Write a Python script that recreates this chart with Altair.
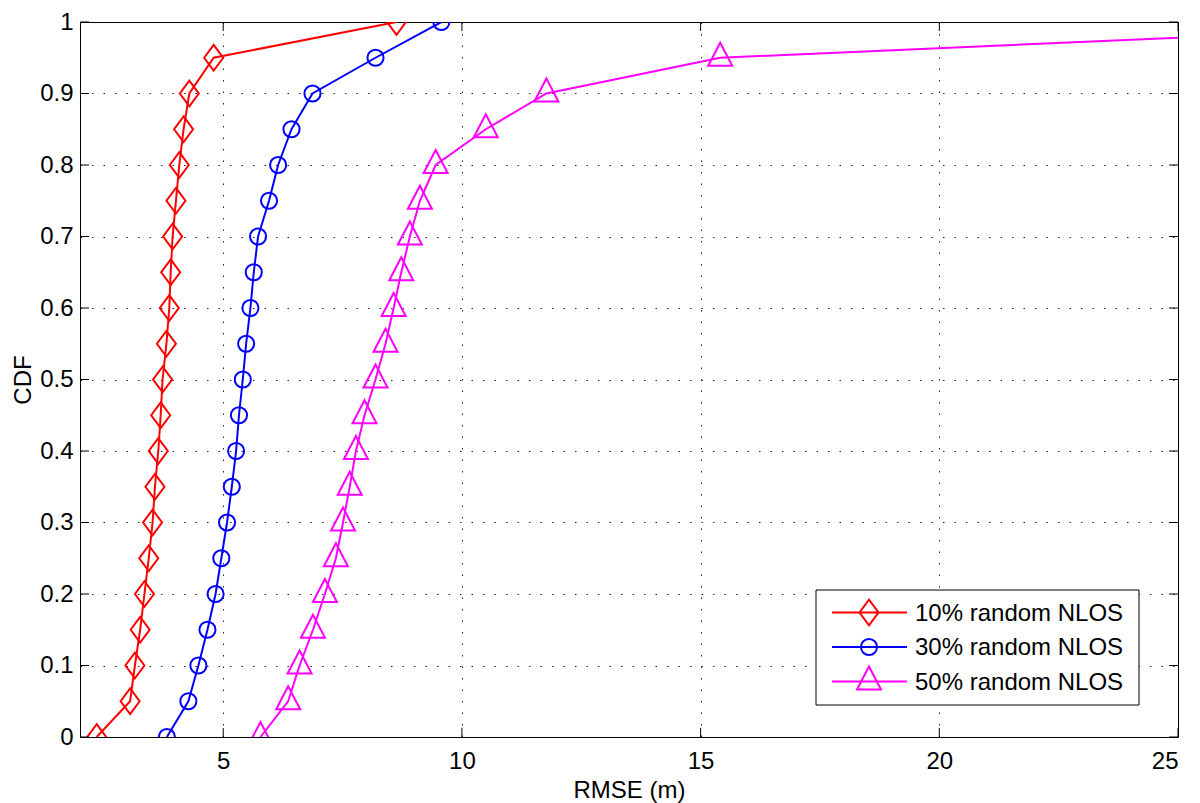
import altair as alt
import pandas as pd

# ---- data ----
cdf = [0.0, 0.05, 0.1, 0.15, 0.2, 0.25, 0.3, 0.35, 0.4, 0.45, 0.5,
       0.55, 0.6, 0.65, 0.7, 0.75, 0.8, 0.85, 0.9, 0.95, 1.0]
rmse_10 = [2.35, 3.05, 3.15, 3.26, 3.35, 3.44, 3.52, 3.57, 3.64, 3.69, 3.73,
           3.81, 3.87, 3.90, 3.94, 4.01, 4.08, 4.17, 4.29, 4.80, 8.63]
rmse_30 = [3.82, 4.27, 4.48, 4.67, 4.84, 4.96, 5.08, 5.18, 5.27, 5.33, 5.41,
           5.48, 5.57, 5.64, 5.73, 5.96, 6.15, 6.43, 6.87, 8.19, 9.57]
rmse_50 = [5.78, 6.36, 6.60, 6.88, 7.13, 7.36, 7.51, 7.65, 7.78, 7.96, 8.19,
           8.40, 8.57, 8.73, 8.91, 9.12, 9.45, 10.50, 11.77, 15.41, 32.5]
series_names = ["10% random NLOS", "30% random NLOS", "50% random NLOS"]
series_colors = ["#ff0000", "#0000ff", "#ff00ff"]
series_shapes = ["M0,-1.35L1,0L0,1.35L-1,0Z", "circle", "M0,-1.25L1,0.67L-1,0.67Z"]
series_sizes = [361, 260, 576]
x_ticks = [5, 10, 15, 20, 25]
y_ticks = [0.0, 0.1, 0.2, 0.3, 0.4, 0.5, 0.6, 0.7, 0.8, 0.9, 1.0]

W, H = 1098, 715
FONT = "Liberation Sans"
FS = 24

rows = []
for name, xs in zip(series_names, [rmse_10, rmse_30, rmse_50]):
    for c, v in zip(cdf, xs):
        rows.append({"series": name, "rmse": v, "cdf": c})
df = pd.DataFrame(rows)
xt = pd.DataFrame({"t": x_ticks})
yt = pd.DataFrame({"t": y_ticks})

xscale = alt.Scale(domain=[2, 25], nice=False, zero=False)
yscale = alt.Scale(domain=[0, 1], nice=False)
xaxis = alt.Axis(values=x_ticks, grid=True, gridDash=[1.5, 10], gridColor="#000000",
                 gridOpacity=0.85, gridWidth=1, tickSize=0, domain=False,
                 labelFont=FONT, labelFontSize=FS, labelColor="#000000", labelPadding=12,
                 title="RMSE (m)", titleFont=FONT, titleFontSize=FS, titleFontWeight="normal",
                 titleColor="#000000", titleY=53, titleBaseline="middle")
yaxis = alt.Axis(values=y_ticks, grid=True, gridDash=[1.5, 10], gridColor="#000000",
                 gridOpacity=0.85, gridWidth=1, tickSize=0, domain=False, format="~g",
                 labelFont=FONT, labelFontSize=FS, labelColor="#000000", labelPadding=7,
                 title="CDF", titleFont=FONT, titleFontSize=FS, titleFontWeight="normal",
                 titleColor="#000000", titleAngle=270, titleX=-50, titleY=H / 2,
                 titleAlign="center", titleBaseline="alphabetic")

def X(field):
    return alt.X(field, type="quantitative", scale=xscale, axis=xaxis)

def Y(field):
    return alt.Y(field, type="quantitative", scale=yscale, axis=yaxis)

color = alt.Color("series:N", scale=alt.Scale(domain=series_names, range=series_colors), legend=None)

lines = alt.Chart(df).mark_line(strokeWidth=2, clip=True).encode(
    x=X("rmse"), y=Y("cdf"), color=color, order="cdf:Q")

point_layers = []
for name, col, shp, sz in zip(series_names, series_colors, series_shapes, series_sizes):
    point_layers.append(
        alt.Chart(df).transform_filter(alt.datum.series == name)
        .mark_point(filled=False, strokeWidth=2, clip=True, opacity=1, color=col,
                    shape=shp, size=sz)
        .encode(x=X("rmse"), y=Y("cdf"))
    )

TL = 9
ticks = [
    alt.Chart(xt).mark_rule(color="black", strokeWidth=1).encode(x=X("t"), y=alt.value(H), y2=alt.value(H - TL)),
    alt.Chart(xt).mark_rule(color="black", strokeWidth=1).encode(x=X("t"), y=alt.value(0), y2=alt.value(TL)),
    alt.Chart(yt).mark_rule(color="black", strokeWidth=1).encode(y=Y("t"), x=alt.value(0), x2=alt.value(TL)),
    alt.Chart(yt).mark_rule(color="black", strokeWidth=1).encode(y=Y("t"), x=alt.value(W), x2=alt.value(W - TL)),
]

# legend (drawn manually, MATLAB style)
leg_df = pd.DataFrame({"series": series_names})
legend_layers = [
    alt.Chart(leg_df.head(1)).mark_rect(fill="white", stroke="black", strokeWidth=1).encode(
        x=alt.value(736), x2=alt.value(1059), y=alt.value(568), y2=alt.value(683))
]
row_y = [590.5, 625, 659.5]
for i, (name, col, shp, sz) in enumerate(zip(series_names, series_colors, series_shapes, series_sizes)):
    base = alt.Chart(leg_df).transform_filter(alt.datum.series == name)
    legend_layers.append(base.mark_rule(color=col, strokeWidth=2).encode(
        x=alt.value(752), x2=alt.value(827), y=alt.value(row_y[i])))
    legend_layers.append(base.mark_point(filled=False, strokeWidth=2, color=col, shape=shp,
                                         size=sz, opacity=1).encode(
        x=alt.value(789), y=alt.value(row_y[i])))
    legend_layers.append(base.mark_text(align="left", baseline="middle", font=FONT,
                                        fontSize=FS, color="black").encode(
        x=alt.value(835), y=alt.value(row_y[i] + 1), text="series:N"))

chart = alt.layer(lines, *point_layers, *ticks, *legend_layers).properties(
    width=W, height=H,
    autosize=alt.AutoSizeParams(type="none"),
    padding={"left": 72, "top": 14, "right": 14, "bottom": 66},
    background="white",
).configure_view(stroke="black", strokeWidth=1)

chart.save("out.html", embed_options={"renderer": "svg", "actions": False})
